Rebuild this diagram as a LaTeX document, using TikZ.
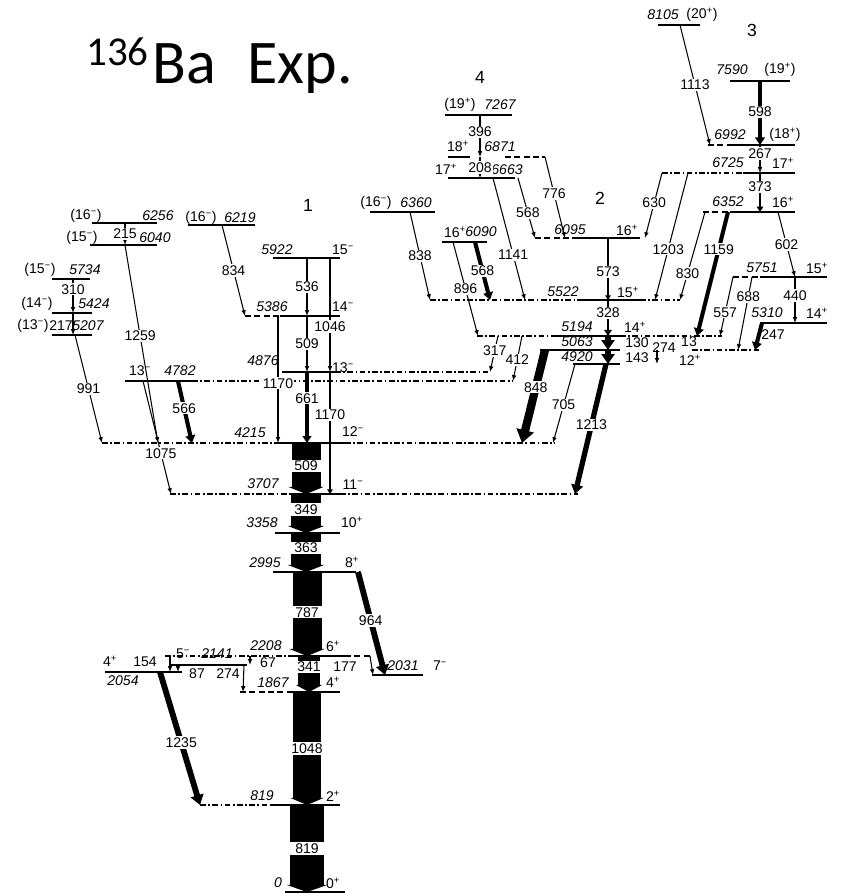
\documentclass[tikz,border=0pt]{standalone}
\usepackage{fontspec}
\setmainfont{Liberation Sans}
\newfontfamily\titlefont{Carlito}
\usetikzlibrary{arrows.meta}
\newcommand\labfont{\fontsize{12}{14}\selectfont}
\newcommand\up{\textsuperscript{+}}
\newcommand\dn{\textsuperscript{−}}
\tikzset{
  lvl/.style={line width=1.3pt},
  lvldd/.style={lvl, dash pattern=on 5pt off 2pt on 1.5pt off 2pt},
  lvldash/.style={lvl, dash pattern=on 5pt off 3pt},
  gam/.style={line width=0.9pt, -{Latex[length=5pt,width=4pt]}},
  gamw/.style={line width=#1, -{Triangle[length=2pt 1.3, width=2pt 1.8]}},
  block/.style={line width=#1, -{Triangle[length=6pt, width=0pt 1.2]}},
  lab/.style={fill=white, inner sep=1pt},
  blab/.style={fill=white, inner sep=1pt, minimum width=#1},
  en/.style={font=\labfont\itshape, inner sep=0pt},
  sp/.style={inner sep=0pt},
  band/.style={font=\fontsize{15}{17}\selectfont}
}
\begin{document}
\begin{tikzpicture}[x=0.03cm, y=-0.03cm, font=\labfont]
\useasboundingbox (0,0) rectangle (845,894);

% title
\node[font=\titlefont\fontsize{35}{40}\selectfont, anchor=base west, inner sep=0pt] (tmass) at (86,65) {136};
\node[font=\titlefont\fontsize{53}{60}\selectfont, anchor=base west, inner sep=0pt] (tba) at (152,83) {Ba};
\node[font=\titlefont\fontsize{53}{60}\selectfont, anchor=base west, inner sep=0pt] (texp) at (247,83) {Exp.};

% band numbers
\node[band] (band1) at (308,205) {1};
\node[band] (band2) at (600,198) {2};
\node[band] (band3) at (752,30) {3};
\node[band] (band4) at (480,77) {4};

% levels
\coordinate (e0) at (285,892);
\coordinate (e819) at (270,805);
\coordinate (e1867) at (290,692);
\coordinate (e2054) at (105,672);
\coordinate (e2141) at (170,665);
\coordinate (e2208) at (290,656);
\coordinate (e2031) at (372,675);
\coordinate (e2995) at (273,572);
\coordinate (e3358) at (275,533);
\coordinate (e3707) at (290,494);
\coordinate (e4215) at (275,443);
\coordinate (e4782) at (125,381);
\coordinate (e4876) at (282,372);
\coordinate (e5207) at (52,335);
\coordinate (e5424) at (52,313);
\coordinate (e5734) at (52,279);
\coordinate (e6040) at (90,245);
\coordinate (e6256) at (92,223);
\coordinate (e6219) at (188,225);
\coordinate (e5386) at (280,316);
\coordinate (e5922) at (273,258);
\coordinate (e6360) at (370,212);
\coordinate (e5522) at (577,300);
\coordinate (e6090) at (442,242);
\coordinate (e6095) at (575,238);
\coordinate (e6663) at (448,178);
\coordinate (e6871) at (448,157);
\coordinate (e7267) at (445,115);
\coordinate (e5194) at (555,336);
\coordinate (e5063) at (540,350);
\coordinate (e4920) at (573,364);
\coordinate (e6352) at (730,212);
\coordinate (e6725) at (743,173);
\coordinate (e6992) at (733,145);
\coordinate (e7590) at (730,81);
\coordinate (e8105) at (658,25);
\coordinate (e5751) at (760,277);
\coordinate (e5310) at (760,323);

\draw[lvl] (e0) -- +(60,0);
\draw[lvldd] (200,0 |- e819) -- (e819); \draw[lvl] (e819) -- +(70,0);
\draw[lvldash] (240,0 |- e1867) -- (e1867); \draw[lvl] (e1867) -- +(50,0);
\draw[lvl] (e2054) -- +(77,0);
\draw[lvl] (e2141) -- +(77,0);
\draw[lvldd] (165,0 |- e2208) -- (e2208); \draw[lvl] (e2208) -- +(55,0);
\draw[lvldash] (345,0 |- e2208) -- (372,0 |- e2208);
\draw[lvl] (e2031) -- +(51,0);
\draw[lvl] (e2995) -- +(77,0); \draw[lvldash] (350,0 |- e2995) -- (360,0 |- e2995);
\draw[lvl] (e3358) -- +(65,0);
\draw[lvldd] (170,0 |- e3707) -- (e3707); \draw[lvl] (e3707) -- +(50,0);
\draw[lvldd] (340,0 |- e3707) -- (578,0 |- e3707);
\draw[lvldd] (102,0 |- e4215) -- (e4215); \draw[lvl] (e4215) -- +(70,0);
\draw[lvldd] (345,0 |- e4215) -- (555,0 |- e4215);
\draw[lvl] (e4782) -- +(67,0); \draw[lvldd] (192,0 |- e4782) -- (512,0 |- e4782);
\draw[lvl] (e4876) -- +(53,0); \draw[lvldd] (335,0 |- e4876) -- (490,0 |- e4876);
\draw[lvl] (e5207) -- +(40,0);
\draw[lvl] (e5424) -- +(40,0);
\draw[lvl] (e5734) -- +(38,0);
\draw[lvl] (e6040) -- +(67,0);
\draw[lvl] (e6256) -- +(65,0);
\draw[lvl] (e6219) -- +(67,0);
\draw[lvldash] (245,0 |- e5386) -- (e5386); \draw[lvl] (e5386) -- +(60,0);
\draw[lvl] (e5922) -- +(67,0);
\draw[lvl] (e6360) -- +(65,0);
\draw[lvldd] (430,0 |- e5522) -- (e5522); \draw[lvl] (e5522) -- +(63,0);
\draw[lvldd] (640,0 |- e5522) -- (680,0 |- e5522);
\draw[lvl] (e6090) -- +(45,0);
\draw[lvldash] (535,0 |- e6095) -- (e6095); \draw[lvl] (e6095) -- +(65,0);
\draw[lvl] (e6663) -- +(67,0);
\draw[lvl] (e6871) -- +(22,0); \draw[lvldash] (505,0 |- e6871) -- (545,0 |- e6871);
\draw[lvl] (e7267) -- +(67,0);
\draw[lvldd] (477,0 |- e5194) -- (e5194); \draw[lvl] (e5194) -- +(65,0);
\draw[lvldd] (620,0 |- e5194) -- (722,0 |- e5194);
\draw[lvl] (e5063) -- +(80,0); \draw[lvldd] (692,0 |- e5063) -- (760,0 |- e5063);
\draw[lvl] (e4920) -- +(47,0);
\draw[lvldash] (703,0 |- e6352) -- (e6352); \draw[lvl] (e6352) -- +(65,0);
\draw[lvldd] (662,0 |- e6725) -- (e6725); \draw[lvl] (e6725) -- +(52,0);
\draw[lvldash] (708,0 |- e6992) -- (e6992); \draw[lvl] (e6992) -- +(62,0);
\draw[lvl] (e7590) -- +(60,0);
\draw[lvl] (e8105) -- +(42,0);
\draw[lvldash] (733,0 |- e5751) -- (e5751); \draw[lvl] (e5751) -- +(67,0);
\draw[lvl] (e5310) -- +(67,0);

% level energies and spins
\node[en] (l0) at (278,883) {0}; \node[sp] (s0) at (333,883) {0\up};
\node[en] (l819) at (262,796) {819}; \node[sp] (s819) at (333,796) {2\up};
\node[en] (l1867) at (273,683) {1867}; \node[sp] (s1867) at (333,682) {4\up};
\node[en] (l2054) at (123,681) {2054}; \node[sp] (s2054) at (110,661) {4\up};
\node[en] (l2141) at (217,654) {2141}; \node[sp] (s2141) at (183,654) {5\dn};
\node[en] (l2208) at (266,646) {2208}; \node[sp] (s2208) at (333,646) {6\up};
\node[en] (l2031) at (403,666) {2031}; \node[sp] (s2031) at (440,666) {7\dn};
\node[en] (l2995) at (265,563) {2995}; \node[sp] (s2995) at (352,562) {8\up};
\node[en] (l3358) at (262,523) {3358}; \node[sp] (s3358) at (352,522) {10\up};
\node[en] (l3707) at (263,484) {3707}; \node[sp] (s3707) at (353,485) {11\dn};
\node[en] (l4215) at (250,433) {4215}; \node[sp] (s4215) at (353,432) {12\dn};
\node[en] (l4782) at (180,371) {4782}; \node[sp] (s4782) at (140,371) {13\dn};
\node[en] (l4876) at (263,361) {4876}; \node[sp] (s4876) at (343,368) {13\dn};
\node[en] (l5207) at (88,326) {5207}; \node[sp] (s5207) at (33,326) {(13\dn)};
\node[en] (l5424) at (94,304) {5424}; \node[sp] (s5424) at (37,304) {(14\dn)};
\node[en] (l5734) at (85,270) {5734}; \node[sp] (s5734) at (40,270) {(15\dn)};
\node[en] (l6040) at (155,238) {6040}; \node[sp] (s6040) at (82,238) {(15\dn)};
\node[en] (l6256) at (158,216) {6256}; \node[sp] (s6256) at (86,216) {(16\dn)};
\node[en] (l6219) at (240,218) {6219}; \node[sp] (s6219) at (201,218) {(16\dn)};
\node[en] (l5386) at (272,307) {5386}; \node[sp] (s5386) at (343,307) {14\dn};
\node[en] (l5922) at (277,250) {5922}; \node[sp] (s5922) at (343,250) {15\dn};
\node[en] (l6360) at (416,203) {6360}; \node[sp] (s6360) at (376,203) {(16\dn)};
\node[en] (l5522) at (563,292) {5522}; \node[sp] (s5522) at (628,292) {15\up};
\node[en] (l6090) at (481,232) {6090}; \node[sp] (s6090) at (455,232) {16\up};
\node[en] (l6095) at (570,230) {6095}; \node[sp] (s6095) at (627,230) {16\up};
\node[en] (l6663) at (507,170) {6663}; \node[sp] (s6663) at (446,169) {17\up};
\node[en] (l6871) at (500,147) {6871}; \node[sp] (s6871) at (458,146) {18\up};
\node[en] (l7267) at (500,105) {7267}; \node[sp] (s7267) at (460,105) {(19\up)};
\node[en] (l5194) at (577,327) {5194}; \node[sp] (s5194) at (635,327) {14\up};
\node[en] (l5063) at (577,342) {5063};
\node[en] (l4920) at (577,357) {4920};
\node[en] (l6352) at (728,202) {6352}; \node[sp] (s6352) at (783,202) {16\up};
\node[en] (l6725) at (728,163) {6725}; \node[sp] (s6725) at (783,163) {17\up};
\node[en] (l6992) at (730,135) {6992}; \node[sp] (s6992) at (785,135) {(18\up)};
\node[en] (l7590) at (732,70) {7590}; \node[sp] (s7590) at (780,70) {(19\up)};
\node[en] (l8105) at (663,15) {8105}; \node[sp] (s8105) at (702,15) {(20\up)};
\node[en] (l5751) at (762,268) {5751}; \node[sp] (s5751) at (817,268) {15\up};
\node[en] (l5310) at (767,313) {5310}; \node[sp] (s5310) at (817,313) {14\up};
\node[sp] (s13) at (689,342) {13};
\node[sp] (s12) at (690,360) {12\up};

% main cascade
\draw[block=0.87cm] (306,0 |- e4215) -- node[blab=0.9cm, pos=.45] (g509a) {509} (306,0 |- e3707);
\draw[block=0.9cm] (306,0 |- e3707) -- node[blab=0.95cm, pos=.4] (g349) {349} (306,0 |- e3358);
\draw[block=0.9cm] (306,0 |- e3358) -- node[blab=0.95cm, pos=.38] (g363) {363} (306,0 |- e2995);
\draw[block=0.87cm] (307,0 |- e2995) -- node[blab=0.9cm, pos=.48] (g787) {787} (307,0 |- e2208);
\draw[block=0.65cm] (309,0 |- e2208) -- node[blab=0.7cm, pos=.3] (g341) {341} (309,0 |- e1867);
\draw[block=0.82cm] (307,0 |- e1867) -- node[blab=0.85cm] (g1048) {1048} (307,0 |- e819);
\draw[block=1.0cm] (307,0 |- e819) -- node[blab=1.05cm] (g819) {819} (307,0 |- e0);

% low-lying side levels
\draw[gamw=5pt] (358,0 |- e2995) -- node[lab, pos=.47] (g964) {964} (385,0 |- e2031);
\draw[gam] (370,0 |- e2208) -- (373,0 |- e2031);
\node (g177) at (345,667) {177};
\draw[gam] (250,0 |- e2208) -- (250,0 |- e2141);
\node (g67) at (268,663) {67};
\draw[gam] (244,0 |- e2141) -- (243,0 |- e1867);
\node (g274a) at (228,674) {274};
\draw[gam] (178,0 |- e2141) -- (178,0 |- e2054);
\node (g87) at (197,674) {87};
\draw[gam] (170,0 |- e2208) -- (170,0 |- e2054);
\node (g154) at (145,662) {154};
\draw[gamw=5pt] (160,0 |- e2054) -- node[lab, pos=.53] (g1235) {1235} (200,0 |- e819);

% band 1 and left side
\draw[gam] (307,0 |- e5922) -- node[lab] (g536) {536} (307,0 |- e5386);
\draw[gam] (330,0 |- e5922) -- node[lab, pos=.6] (g1046) {1046} (330,0 |- e4876);
\draw[gam] (307,0 |- e5386) -- node[lab] (g509b) {509} (307,0 |- e4876);
\draw[gam] (278,0 |- e5386) -- node[lab, pos=.53] (g1170a) {1170} (278,0 |- e4215);
\draw[gamw=3pt] (307,0 |- e4876) -- node[lab, pos=.37] (g661) {661} (307,0 |- e4215);
\draw[gamw=1.5pt] (330,0 |- e4876) -- node[lab, pos=.35] (g1170b) {1170} (330,0 |- e3707);
\draw[gam] (222,0 |- e6219) -- node[lab] (g834) {834} (245,0 |- e5386);
\draw[gam] (125,0 |- e6256) -- node[lab] (g215) {215} (125,0 |- e6040);
\draw[gam] (125,0 |- e6040) -- node[lab, pos=.46] (g1259) {1259} (158,0 |- e4215);
\draw[gam] (73,0 |- e5734) -- node[lab, pos=.3] (g310) {310} (73,0 |- e5424);
\draw[gam] (73,0 |- e5424) -- (73,0 |- e5207);
\node[inner sep=1pt] (g217) at (61,326) {217};
\draw[gam] (75,0 |- e5207) -- node[lab] (g991) {991} (102,0 |- e4215);
\draw[gam] (143,0 |- e4782) -- node[lab, pos=.64] (g1075) {1075} (171,0 |- e3707);
\draw[gamw=3.5pt] (178,0 |- e4782) -- node[lab, pos=.44] (g566) {566} (192,0 |- e4215);

% bands 2 and 4
\draw[gam] (410,0 |- e6360) -- node[lab] (g838) {838} (430,0 |- e5522);
\draw[gam] (453,0 |- e6090) -- node[lab] (g896) {896} (478,0 |- e5194);
\draw[gamw=3.5pt] (475,0 |- e6090) -- node[lab] (g568a) {568} (490,0 |- e5522);
\draw[gam] (493,0 |- e6663) -- node[lab, pos=.63] (g1141) {1141} (525,0 |- e5522);
\draw[gam] (518,0 |- e6663) -- node[lab, pos=.58] (g568b) {568} (535,0 |- e6095);
\draw[gam] (545,0 |- e6871) -- node[lab, pos=.45] (g776) {776} (565,0 |- e6095);
\draw[gam] (480,0 |- e7267) -- node[lab, pos=.4] (g396) {396} (480,0 |- e6871);
\draw[gam] (480,0 |- e6871) -- node[lab] (g208) {208} (480,0 |- e6663);
\draw[gamw=1.5pt] (608,0 |- e6095) -- node[lab, pos=.55] (g573) {573} (608,0 |- e5522);
\draw[gamw=2.5pt] (608,0 |- e5522) -- node[lab, pos=.36] (g328) {328} (608,0 |- e5194);
\draw[gamw=5pt] (608,0 |- e5194) -- (608,0 |- e5063);
\node (g130) at (637,343) {130};
\draw[gamw=5pt] (608,0 |- e5063) -- (608,0 |- e4920);
\node (g143) at (637,358) {143};
\draw[gam] (498,0 |- e5194) -- node[lab, pos=.4] (g317) {317} (490,0 |- e4876);
\draw[gam] (522,0 |- e5194) -- node[lab, pos=.53] (g412) {412} (513,0 |- e4782);
\draw[gamw=7pt] (545,0 |- e5063) -- node[lab, pos=.4] (g848) {848} (522,0 |- e4215);
\draw[gam] (575,0 |- e4920) -- node[lab, pos=.52] (g705) {705} (553,0 |- e4215);
\draw[gamw=4.5pt] (606,0 |- e4920) -- node[lab, pos=.47] (g1213) {1213} (575,0 |- e3707);

% band 3
\draw[gam] (680,0 |- e8105) -- node[lab] (g1113) {1113} (710,0 |- e6992);
\draw[gamw=3.5pt] (760,0 |- e7590) -- node[lab, pos=.48] (g598) {598} (760,0 |- e6992);
\draw[gam] (760,0 |- e6992) -- node[lab, pos=.3] (g267) {267} (760,0 |- e6725);
\draw[gamw=2pt] (760,0 |- e6725) -- node[lab, pos=.36] (g373) {373} (760,0 |- e6352);
\draw[gam] (662,0 |- e6725) -- node[lab, pos=.46] (g630) {630} (645,0 |- e6095);
\draw[gam] (688,0 |- e6725) -- node[lab, pos=.6] (g1203) {1203} (655,0 |- e5522);
\draw[gam] (705,0 |- e6352) -- node[lab, pos=.7] (g830) {830} (680,0 |- e5522);
\draw[gamw=3.5pt] (728,0 |- e6352) -- node[lab, pos=.3] (g1159) {1159} (697,0 |- e5194);
\draw[gam] (778,0 |- e6352) -- node[lab] (g602) {602} (795,0 |- e5751);
\draw[gam] (795,0 |- e5751) -- node[lab, pos=.4] (g440) {440} (795,0 |- e5310);
\draw[gam] (733,0 |- e5751) -- node[lab, pos=.6] (g557) {557} (720,0 |- e5194);
\draw[gam] (752,0 |- e5751) -- node[lab, pos=.27] (g688) {688} (738,0 |- e5063);
\draw[gamw=3.5pt] (762,0 |- e5310) -- (755,0 |- e5063);
\node (g247) at (773,335) {247};
\draw[gam] (657,0 |- e5063) -- (657,0 |- e4920);
\node[inner sep=1pt] (g274b) at (664,348) {274};
\end{tikzpicture}
\end{document}
